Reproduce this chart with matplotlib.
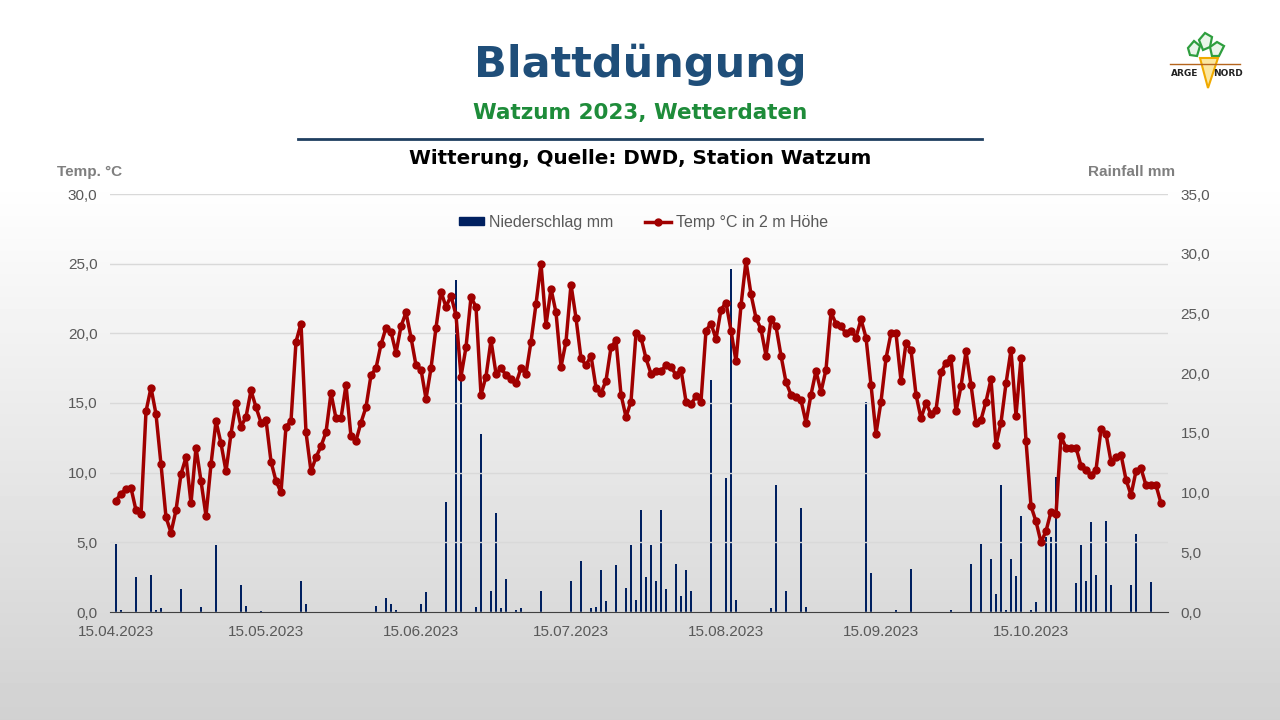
import numpy as np
import pandas as pd
import matplotlib
matplotlib.use("Agg")
import matplotlib.pyplot as plt
import matplotlib.dates as mdates
from matplotlib.lines import Line2D
from matplotlib.patches import Patch, Polygon
from matplotlib.ticker import FuncFormatter, MultipleLocator

# daily mean temperature, 15.04.2023 onwards
temps = [
    8.0, 8.5, 8.8, 8.9, 7.3, 7.0, 14.4, 16.1, 14.2, 10.6,
    6.8, 5.7, 7.3, 9.9, 11.1, 7.8, 11.8, 9.4, 6.9, 10.6,
    13.7, 12.1, 10.1, 12.8, 15.0, 13.3, 14.0, 15.9, 14.7, 13.6,
    13.8, 10.8, 9.4, 8.6, 13.3, 13.7, 19.4, 20.7, 12.9, 10.1,
    11.1, 11.9, 12.9, 15.7, 13.9, 13.9, 16.3, 12.6, 12.3, 13.6,
    14.7, 17.0, 17.5, 19.2, 20.4, 20.1, 18.6, 20.5, 21.5, 19.7,
    17.7, 17.4, 15.3, 17.5, 20.4, 23.0, 21.9, 22.7, 21.3, 16.9,
    19.0, 22.6, 21.9, 15.6, 16.9, 19.5, 17.1, 17.5, 17.0, 16.7,
    16.4, 17.5, 17.1, 19.4, 22.1, 25.0, 20.6, 23.2, 21.5, 17.6,
    19.4, 23.5, 21.1, 18.2, 17.7, 18.4, 16.1, 15.7, 16.6, 19.0,
    19.5, 15.6, 14.0, 15.1, 20.0, 19.7, 18.2, 17.1, 17.3, 17.3,
    17.7, 17.6, 17.0, 17.4, 15.1, 14.9, 15.5, 15.1, 20.2, 20.7,
    19.6, 21.7, 22.2, 20.2, 18.0, 22.0, 25.2, 22.8, 21.1, 20.3,
    18.4, 21.0, 20.5, 18.4, 16.5, 15.6, 15.4, 15.2, 13.6, 15.6,
    17.3, 15.8, 17.4, 21.5, 20.7, 20.5, 20.0, 20.2, 19.7, 21.0,
    19.7, 16.3, 12.8, 15.1, 18.2, 20.0, 20.0, 16.6, 19.3, 18.8,
    15.6, 13.9, 15.0, 14.2, 14.5, 17.2, 17.9, 18.2, 14.4, 16.2,
    18.7, 16.3, 13.6, 13.8, 15.1, 16.7, 12.0, 13.6, 16.4, 18.8,
    14.1, 18.2, 12.3, 7.6, 6.5, 5.0, 5.8, 7.2, 7.0, 12.6,
    11.8, 11.8, 11.8, 10.5, 10.2, 9.8, 10.2, 13.1, 12.8, 10.8,
    11.1, 11.3, 9.5, 8.4, 10.1, 10.3, 9.1, 9.1, 9.1, 7.8,
]

# rain days: offset in days from 15.04.2023 and amount in mm
rain_day = [0, 1, 4, 7, 8, 9, 13, 17, 20, 25, 26, 29, 37, 38, 52, 54, 55, 56,
            61, 62, 66, 68, 69, 72, 73, 75, 76, 77, 78, 80, 81, 85, 91, 93, 95,
            96, 97, 98, 100, 102, 103, 104, 105, 106, 107, 108, 109, 110, 112,
            113, 114, 115, 119, 122, 123, 124, 131, 132, 134, 137, 138, 150,
            151, 156, 159, 167, 171, 173, 175, 176, 177, 178, 179, 180, 181,
            183, 184, 186, 187, 188, 192, 193, 194, 195, 196, 198, 199, 203,
            204, 207]
rain_mm = [5.7, 0.2, 2.9, 3.1, 0.2, 0.3, 1.9, 0.4, 5.6, 2.3, 0.5, 0.1, 2.6, 0.7,
           0.5, 1.2, 0.7, 0.2, 0.7, 1.7, 9.2, 27.8, 20.0, 0.4, 14.9, 1.8, 8.3,
           0.3, 2.8, 0.2, 0.3, 1.8, 2.6, 4.3, 0.3, 0.4, 3.5, 0.9, 3.9, 2.0, 5.6,
           1.0, 8.5, 2.9, 5.6, 2.6, 8.5, 1.9, 4.0, 1.3, 3.5, 1.8, 19.4, 11.2,
           28.7, 1.0, 0.3, 10.6, 1.8, 8.7, 0.4, 17.6, 3.3, 0.2, 3.6, 0.2, 4.0,
           5.7, 4.4, 1.5, 10.6, 0.2, 4.4, 3.0, 8.0, 0.2, 0.8, 6.3, 6.3, 11.3,
           2.4, 5.6, 2.6, 7.5, 3.1, 7.6, 2.3, 2.3, 6.5, 2.5]

start = pd.Timestamp("2023-04-15")
days = pd.date_range(start, periods=len(temps), freq="D")
rain_dates = [start + pd.Timedelta(days=d) for d in rain_day]

navy = "#002060"
red = "#A00000"
grey_txt = "#595959"

fig = plt.figure(figsize=(12.8, 7.2), dpi=100)

# background gradient
bg = fig.add_axes([0, 0, 1, 1], zorder=-10)
shade = np.concatenate([np.ones(180), np.linspace(1.0, 0.82, 540)])
bg.imshow(shade[:, None], aspect="auto", extent=[0, 1, 0, 1], cmap="gray",
          vmin=0, vmax=1)
bg.axis("off")

# header
fig.text(0.5, 1 - 65 / 720, "Blattdüngung", ha="center", va="center",
         fontsize=31, fontweight="bold", color="#1F4E79", family="DejaVu Sans")
fig.text(0.5, 1 - 113 / 720, "Watzum 2023, Wetterdaten", ha="center", va="center",
         fontsize=15.5, fontweight="bold", color="#1E8C3A", family="DejaVu Sans")
fig.add_artist(Line2D([298 / 1280, 982 / 1280], [1 - 139 / 720] * 2,
                      color="#1F3F60", lw=2))
fig.text(0.5, 1 - 159 / 720, "Witterung, Quelle: DWD, Station Watzum",
         ha="center", va="center", fontsize=14.3, fontweight="bold",
         color="black", family="DejaVu Sans")
fig.text(57 / 1280, 1 - 172 / 720, "Temp. °C", ha="left", va="center",
         fontsize=11, fontweight="bold", color="#7F7F7F", family="Liberation Sans")
fig.text(1175 / 1280, 1 - 172 / 720, "Rainfall mm", ha="right", va="center",
         fontsize=11, fontweight="bold", color="#7F7F7F", family="Liberation Sans")

# main chart
ax = fig.add_axes([110 / 1280, 1 - 612 / 720, 1058 / 1280, 418 / 720])
ax2 = ax.twinx()
ax.set_zorder(ax2.get_zorder() + 1)
ax.patch.set_visible(False)

ax2.bar(rain_dates, rain_mm, width=0.3, color=navy, zorder=2)
ax.plot(days, temps, color=red, lw=2.5, marker="o", ms=5, zorder=3)

ax.set_ylim(0, 30)
ax2.set_ylim(0, 35)
ax.set_xlim(start - pd.Timedelta(days=1.2), start + pd.Timedelta(days=210.4))
ax.yaxis.set_major_locator(MultipleLocator(5))
ax2.yaxis.set_major_locator(MultipleLocator(5))
comma = FuncFormatter(lambda v, p: f"{v:.1f}".replace(".", ","))
ax.yaxis.set_major_formatter(comma)
ax2.yaxis.set_major_formatter(comma)
ax.xaxis.set_major_locator(mdates.MonthLocator(bymonthday=15))
ax.xaxis.set_major_formatter(mdates.DateFormatter("%d.%m.%Y"))

ax.grid(axis="y", color="#D9D9D9", lw=1)
for a in (ax, ax2):
    for s in a.spines.values():
        s.set_visible(False)
ax.spines["bottom"].set_visible(True)
ax.spines["bottom"].set_color("#404040")
ax.tick_params(axis="both", length=0, labelsize=11, labelcolor=grey_txt)
ax.tick_params(axis="y", pad=9)
ax.tick_params(axis="x", pad=9)
ax2.tick_params(axis="y", length=0, labelsize=11, labelcolor=grey_txt, pad=9)
for lab in ax.get_xticklabels() + ax.get_yticklabels() + ax2.get_yticklabels():
    lab.set_family("Liberation Sans")

handles = [Patch(color=navy), Line2D([], [], color=red, lw=2.5, marker="o", ms=5)]
leg = ax.legend(handles, ["Niederschlag mm", "Temp °C in 2 m Höhe"], loc="center",
                bbox_to_anchor=(0.504, 0.933), ncol=2, frameon=False,
                handlelength=1.6, handleheight=0.4, handletextpad=0.3,
                columnspacing=2.0,
                prop={"family": "Liberation Sans", "size": 11.5})
for t in leg.get_texts():
    t.set_color(grey_txt)

# logo
lg = fig.add_axes([1165 / 1280, 1 - 100 / 720, 80 / 1280, 75 / 720])
lg.set_xlim(1165, 1245)
lg.set_ylim(100, 25)
lg.axis("off")
leaves = [
    [(1188, 48), (1194, 41), (1200, 46), (1197, 56), (1190, 55)],
    [(1199, 40), (1205, 33), (1212, 37), (1210, 47), (1203, 50)],
    [(1210, 47), (1217, 42), (1224, 46), (1219, 56), (1212, 56)],
]
for pts in leaves:
    lg.add_patch(Polygon(pts, closed=True, fc="#E9F5E9", ec="#2E9E3E", lw=1.6))
lg.plot([1170, 1240], [64, 64], color="#B5651D", lw=1)
lg.add_patch(Polygon([(1200, 58), (1218, 58), (1208, 88)], closed=True,
                     fc="#FBE7A0", ec="#F0AA00", lw=1.5))
lg.text(1185, 74, "ARGE", ha="center", va="center", fontsize=6.5,
        fontweight="bold", color="#222222")
lg.text(1228, 74, "NORD", ha="center", va="center", fontsize=6.5,
        fontweight="bold", color="#222222")

fig.savefig("out.png", dpi=100)
